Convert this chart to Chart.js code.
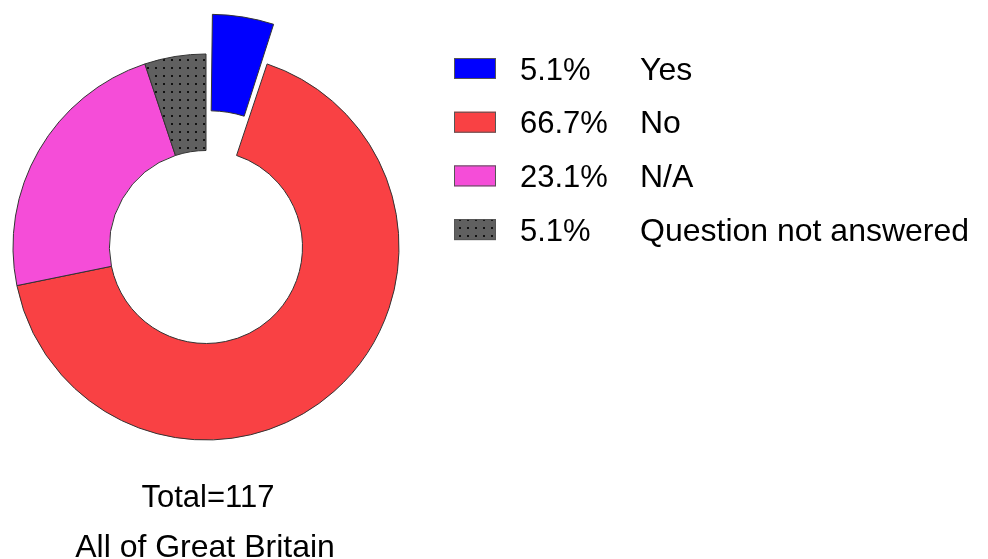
<!DOCTYPE html>
<html>
<head>
<meta charset="utf-8">
<script src="https://cdn.jsdelivr.net/npm/chart.js@4"></script>
<style>
  body { margin: 0; background: #fff; }
  canvas { display: block; }
</style>
</head>
<body>
<canvas id="chartCanvas" width="988" height="559"></canvas>
<script>
// survey answers, counts (total 117)
const answerLabels = ["Yes", "No", "N/A", "Question not answered"];
const answerCounts = [6, 78, 27, 6];
const footerLines = ["Total=117", "All of Great Britain"];

const font = "'Liberation Sans', Arial, sans-serif";

// dotted grey fill for the "not answered" slice
function dotPattern() {
    const c = document.createElement("canvas");
    c.width = 8;
    c.height = 8;
    const g = c.getContext("2d");
    g.fillStyle = "#606060";
    g.fillRect(0, 0, 8, 8);
    g.fillStyle = "#111";
    g.fillRect(3, 3, 2, 2);
    return g.createPattern(c, "repeat");
}

const sliceColors = ["#0000ff", "#f94144", "#f54dd8", dotPattern()];

const total = answerCounts.reduce((a, b) => a + b, 0);
const percentText = answerCounts.map(v => (v / total * 100).toFixed(1) + "%");

// legend and footer text drawn on the canvas
const sideText = {
    id: "sideText",
    afterDraw(chart) {
        const ctx = chart.ctx;
        ctx.save();
        ctx.textBaseline = "alphabetic";
        answerLabels.forEach((lab, i) => {
            const cy = 68.5 + i * 53.7;
            ctx.fillStyle = sliceColors[i];
            ctx.fillRect(454, cy - 10.5, 42, 21);
            ctx.strokeStyle = "#555";
            ctx.lineWidth = 1;
            ctx.strokeRect(454.5, cy - 10, 41, 20);
            ctx.fillStyle = "#000";
            ctx.textAlign = "left";
            ctx.font = "31px " + font;
            ctx.fillText(percentText[i], 520, cy + 11);
            ctx.font = "32px " + font;
            ctx.fillText(lab, 640, cy + 11);
        });
        ctx.textAlign = "center";
        ctx.font = "31px " + font;
        ctx.fillText(footerLines[0], 208, 507);
        ctx.font = "32px " + font;
        ctx.fillText(footerLines[1], 205, 557);
        ctx.restore();
    }
};

new Chart("chartCanvas", {
    type: "doughnut",
    data: {
        labels: answerLabels,
        datasets: [{
            data: answerCounts,
            backgroundColor: sliceColors,
            borderColor: "#333",
            borderWidth: 1,
            offset: [95, 0, 0, 0],
            hoverOffset: 0
        }]
    },
    options: {
        responsive: false,
        animation: false,
        radius: 193,
        cutout: "50%",
        layout: {
            padding: { left: 0, right: 576, top: 20, bottom: 85 }
        },
        plugins: {
            legend: { display: false },
            tooltip: { enabled: false }
        }
    },
    plugins: [sideText]
});
</script>
</body>
</html>
